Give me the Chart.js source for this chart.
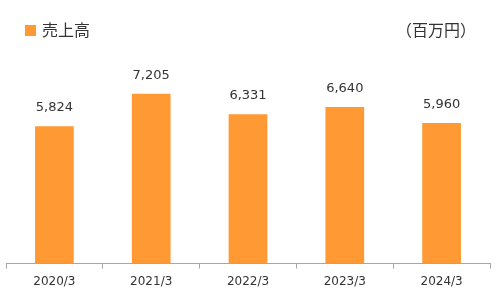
<!DOCTYPE html>
<html>
<head>
<meta charset="utf-8">
<script src="https://cdn.jsdelivr.net/npm/chart.js@4"></script>
<style>
  html, body { margin: 0; padding: 0; background: #fff; }
  #wrap { width: 500px; height: 300px; position: relative; }
</style>
</head>
<body>
<div id="wrap"><canvas id="salesChart"></canvas></div>
<script>
const categories = ['2020/3', '2021/3', '2022/3', '2023/3', '2024/3'];
const sales = [5824, 7205, 6331, 6640, 5960];
const seriesName = '売上高';
const unitLabel = '（百万円）';

const barColor = '#FF9933';
const textColor = '#333333';

// value labels above bars + legend/unit text at top
const labelsPlugin = {
  id: 'labelsPlugin',
  afterDatasetsDraw(chart) {
    const ctx = chart.ctx;
    const meta = chart.getDatasetMeta(0);
    ctx.save();
    ctx.fillStyle = textColor;
    ctx.font = '13px "DejaVu Sans", Verdana, sans-serif';
    ctx.textAlign = 'center';
    ctx.textBaseline = 'bottom';
    meta.data.forEach((bar, i) => {
      ctx.fillText(sales[i].toLocaleString('en-US'), bar.x, bar.y - 12);
    });

    // legend
    ctx.fillStyle = barColor;
    ctx.fillRect(25, 25, 11, 11);
    ctx.fillStyle = textColor;
    ctx.font = '16px "Noto Sans CJK JP", sans-serif';
    ctx.textAlign = 'left';
    ctx.textBaseline = 'middle';
    ctx.fillText(seriesName, 42, 30);
    ctx.textAlign = 'right';
    ctx.font = '16px "Noto Sans CJK JP", sans-serif';
    ctx.fillText(unitLabel, 476, 30);
    ctx.restore();
  }
};

const ctx = document.getElementById('salesChart').getContext('2d');
const chart = new Chart(ctx, {
  type: 'bar',
  data: {
    labels: categories,
    datasets: [
      {
        label: seriesName,
        data: sales,
        backgroundColor: barColor,
        borderWidth: 0,
        categoryPercentage: 0.4,
        barPercentage: 1.0,
      },
    ],
  },
  options: {
    responsive: true,
    maintainAspectRatio: false,
    animation: false,
    layout: { padding: { top: 75, left: 6, right: 10, bottom: 5 } },
    plugins: {
      legend: { display: false },
      tooltip: { enabled: false },
    },
    scales: {
      x: {
        grid: {
          display: true,
          drawOnChartArea: false,
          drawTicks: true,
          tickLength: 5,
          color: '#a6a6a6',
          offset: true,
        },
        border: { color: '#a6a6a6', width: 1 },
        ticks: {
          color: textColor,
          font: { family: '"DejaVu Sans", Verdana, sans-serif', size: 12 },
          padding: 6,
        },
      },
      y: {
        display: false,
        min: 0,
        max: 8000,
      },
    },
  },
  plugins: [labelsPlugin],
});
</script>
</body>
</html>
